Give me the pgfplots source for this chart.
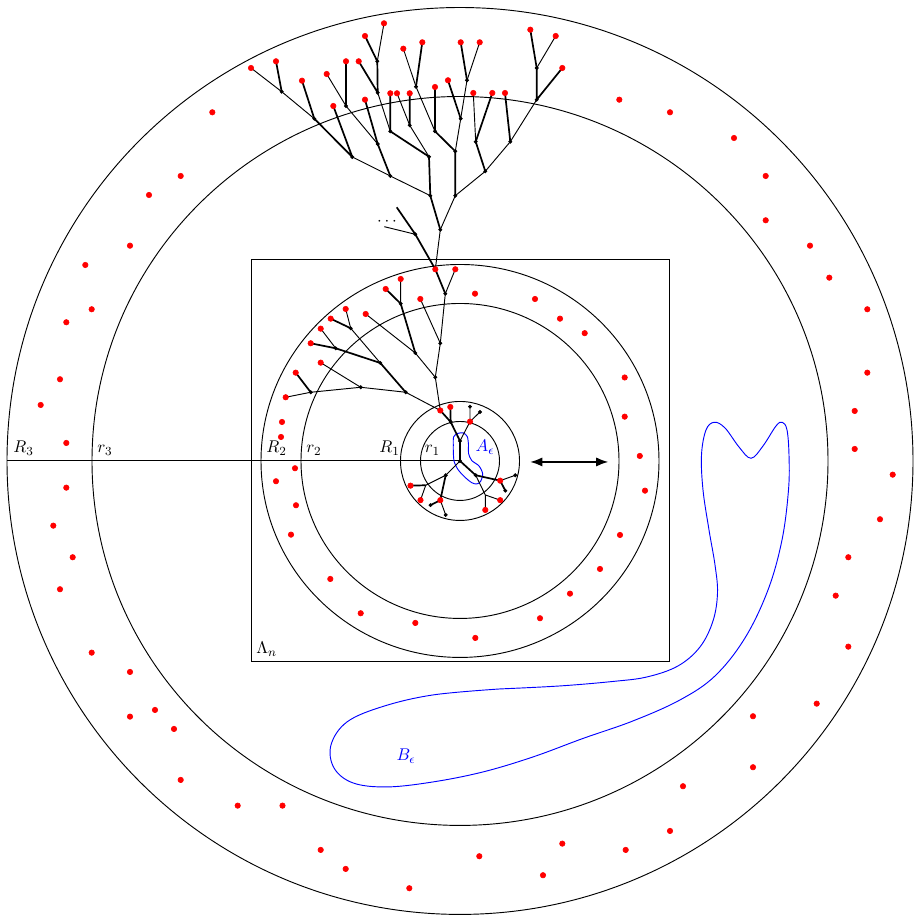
\documentclass[border=0pt]{standalone}
\usepackage{pgfplots}
\pgfplotsset{compat=1.18}
\usetikzlibrary{arrows.meta}
\begin{document}
\begin{tikzpicture}[every node/.append style={font=\fontsize{11}{13}\selectfont}]
\begin{axis}[
  width=591pt, height=590.3pt, scale only axis,
  xmin=0, xmax=916, ymin=0, ymax=915, y dir=reverse,
  hide axis, clip=false, unbounded coords=jump,
]
\addplot[draw=none] coordinates {(0,0) (916,915)};
% circles
\draw[line width=0.6pt] (axis cs:460,461) ellipse [x radius=453, y radius=453.5];
\draw[line width=0.6pt] (axis cs:460,461) ellipse [x radius=368, y radius=364.5];
\draw[line width=0.6pt] (axis cs:460,461) ellipse [x radius=199, y radius=196.5];
\draw[line width=0.6pt] (axis cs:460,461) ellipse [x radius=159, y radius=157.5];
\draw[line width=0.6pt] (axis cs:460,461) circle [radius=59.5];
\draw[line width=0.6pt] (axis cs:460,461) circle [radius=39.5];
% square and radius line
\addplot[line width=0.6pt, black] coordinates {(251,259.5) (669.5,259.5) (669.5,662) (251,662) (251,259.5)};
\addplot[line width=0.6pt, black] coordinates {(7,461) (460,461)};
% labels
\node[anchor=south west, inner sep=3.3pt] at (axis cs:8,461) {$R_3$};
\node[anchor=south west, inner sep=3.3pt] at (axis cs:92,461) {$r_3$};
\node[anchor=south west, inner sep=3.3pt] at (axis cs:261,461) {$R_2$};
\node[anchor=south west, inner sep=3.3pt] at (axis cs:301,461) {$r_2$};
\node[anchor=south west, inner sep=3.3pt] at (axis cs:374,461) {$R_1$};
\node[anchor=south west, inner sep=3.3pt] at (axis cs:419.5,461) {$r_1$};
\node[anchor=south west, inner sep=3.3pt] at (axis cs:251,662) {$\Lambda_n$};
\node[blue] at (axis cs:485,447) {$A_\epsilon$};
\node[blue] at (axis cs:406,756) {$B_\epsilon$};
\node[anchor=base] at (axis cs:387,226) {$\cdots$};
% arrow
\addplot[line width=1.3pt, {Latex[length=8pt,width=6pt]}-{Latex[length=8pt,width=6pt]}] coordinates {(530,462) (608.5,462)};
% blue curves
\addplot[blue, line width=0.6pt, smooth] coordinates {
(453.3,445) (453.6,437) (457.5,433.5) (463.3,433) (467.3,436.7) (468.5,445) (468.5,453.3) (471.7,460.5) (479,466) (482.7,474) (480.5,481.5) (476.7,484) (471.7,482.7) (465,477.3) (458.3,470) (454.2,461.7) (453.3,451.7) (453.3,445)};
\addplot[blue, line width=0.6pt, smooth, tension=0.6] coordinates {
(500,689) (433,695) (383,706.5) (347,722) (331,745) (334,768) (353,783) (387,787) (433,782) (483,772) (533,757) (583,738.5) (633,721) (680,700) (715,676) (745,638) (768,590) (782,540) (788.5,490) (789,455) (787,430) (782.3,422.3) (776,426) (763,446) (751,458.3) (739,447) (725,428) (714.3,422.3) (706,430) (701.5,455) (703,490) (709,530) (715,565) (717.5,593) (713,621) (700,647) (678,666) (647,677) (613,681.5) (560,686) (500,689)};
% thin tree edges
\addplot[black, line width=0.6pt] coordinates {
(251,68) (281.7,91.7) (314.3,118.7) (nan,nan)
(352.3,157) (390.3,176) (430.3,195.7) (nan,nan)
(326.7,74) (346,106) (377.7,144) (nan,nan)
(384,23.3) (377.3,61.3) (nan,nan)
(377.7,92.7) (390.3,131.3) (nan,nan)
(397,93.3) (409.7,125.3) (429,156.7) (nan,nan)
(403.3,48.7) (416,86.7) (435,131.3) (nan,nan)
(479.7,42.3) (467,80.3) (460.7,118.7) (455.3,151.3) (nan,nan)
(473.3,93) (475.7,141.7) (nan,nan)
(555.7,36) (536.7,68) (nan,nan)
(536.7,99.7) (510.3,141.7) (485.3,171.3) (455.3,195.7) (440.3,229.7) (435.3,269.3) (nan,nan)
(384.3,226.7) (415.3,234.3) (nan,nan)
(455.3,269.3) (445.3,293.7) (440.3,343.3) (435.3,377.3) (440.3,410.5) (nan,nan)
(400.7,279) (400.7,303.7) (nan,nan)
(420.3,299) (440.3,343.3) (nan,nan)
(365.7,314) (415.3,353) (435.3,377.3) (nan,nan)
(345.7,309) (350.7,328.3) (380.3,363) (nan,nan)
(320.7,328.7) (335.7,348.3) (nan,nan)
(320.7,362.7) (360.7,387.3) (nan,nan)
(285.7,397.3) (310.7,392.3) (360.7,387.3) (405.7,392.3) (440.3,410.5) (nan,nan)
(470,406.7) (470,421.7) (460,441) (nan,nan)
(470,421.7) (480,412) (nan,nan)
(460,461) (445.7,475.3) (425.7,485.3) (420.5,500.2) (nan,nan)
(440.3,500.2) (445.7,515) (nan,nan)
(500.2,480.7) (515.3,475.3) (nan,nan)
(475.7,475.3) (485.3,495) (485.3,510) (nan,nan)
(485.3,495) (500.2,500.2)
};
% thick tree edges
\addplot[black, line width=1.1pt] coordinates {
(276,61.3) (281.7,91.7) (nan,nan)
(302,80.7) (314.3,118.7) (352.3,157) (nan,nan)
(333.3,106) (352.3,157) (nan,nan)
(346,61.3) (346,106) (nan,nan)
(365,99.7) (377.7,144) (390.3,176) (nan,nan)
(365,36) (377.3,61.3) (377.7,92.7) (nan,nan)
(358.7,61.3) (377.7,92.7) (nan,nan)
(390.3,93.3) (390.3,131.3) (429,156.7) (430.3,195.7) (440.3,229.7) (nan,nan)
(409.7,93.3) (409.7,125.3) (nan,nan)
(422.3,42.3) (416,86.7) (nan,nan)
(435,87) (435,131.3) (455.3,151.3) (455.3,195.7) (nan,nan)
(460.7,42.3) (467,80.3) (nan,nan)
(448,80.3) (460.7,118.7) (nan,nan)
(492.3,93) (475.7,141.7) (485.3,171.3) (nan,nan)
(505,93) (510.3,141.7) (nan,nan)
(530.3,29.7) (536.7,68) (536.7,99.7) (nan,nan)
(562.3,68) (536.7,99.7) (nan,nan)
(396.7,207.3) (415.3,234.3) (435.3,269.3) (445.3,293.7) (nan,nan)
(385.7,289) (400.7,303.7) (415.3,353) (nan,nan)
(330.7,318.7) (350.7,328.3) (nan,nan)
(310.7,343.3) (335.7,348.3) (380.3,363) (405.7,392.3) (nan,nan)
(295.7,372.7) (310.7,392.3) (nan,nan)
(440.3,410.5) (450.7,422) (460,441) (460,461) (475.7,475.3) (500.2,480.7) (505.3,490.7) (nan,nan)
(450.3,407) (450.7,422) (nan,nan)
(410.5,485.7) (425.7,485.3) (nan,nan)
(445.7,475.3) (440.3,500.2) (430.5,505.2)
};
% black nodes
\addplot[only marks, mark=*, mark size=1.05pt, black] coordinates {
(281.7,91.7) (314.3,118.7) (346,106) (352.3,157) (377.7,144) (377.3,61.3) (377.7,92.7)
(390.3,131.3) (409.7,125.3) (390.3,176) (416,86.7) (435,131.3) (429,156.7) (430.3,195.7)
(467,80.3) (460.7,118.7) (455.3,151.3) (455.3,195.7) (475.7,141.7) (510.3,141.7) (485.3,171.3)
(536.7,68) (536.7,99.7) (440.3,229.7) (415.3,234.3)
(445.3,293.7) (400.7,303.7) (350.7,328.3) (415.3,353) (440.3,343.3) (335.7,348.3) (380.3,363)
(435.3,377.3) (360.7,387.3) (310.7,392.3) (405.7,392.3)
(450.7,422) (470,406.7) (480,412) (460,441) (460,461) (445.7,475.3) (475.7,475.3)
(515.3,475.3) (505.3,490.7) (430.5,505.2) (445.7,515)
};
% red points
\addplot[only marks, mark=*, mark size=1.75pt, red] coordinates {
(251,68) (276,61.3) (302,80.7) (333.3,106) (326.7,74) (346,61.3) (365,99.7) (365,36) (384,23.3)
(358.7,61.3) (390.3,93.3) (397,93.3) (409.7,93.3) (403.3,48.7) (422.3,42.3) (435,87) (460.7,42.3)
(479.7,42.3) (448,80.3) (473.3,93) (492.3,93) (505,93) (530.3,29.7) (555.7,36) (562.3,68)
(435.3,269.3) (455.3,269.3)
(400.7,279) (385.7,289) (420.3,299) (345.7,309) (330.7,318.7) (365.7,314) (320.7,328.7)
(310.7,343.3) (320.7,362.7) (295.7,372.7) (285.7,397.3) (440.3,410.5) (450.3,407)
(470,421.7) (410.5,485.7) (420.5,500.2) (440.3,500.2) (500.2,480.7) (500.2,500.2) (485.3,510)
(475,293.7) (535,299) (560,318.7) (584.7,333.2) (624.7,377.5) (624.7,416.7) (639.8,456)
(645,490.7) (620,535) (600,569) (570,593.7) (540,618.3) (475.3,638) (415.3,623) (360.7,613.3)
(330.3,579) (291,534.7) (296,505.3) (276,481.3) (295,468.3) (282,422) (281,437)
(212.3,112.3) (180.7,176) (149,195) (130,245.7) (85.3,265) (91.7,309.3) (66.3,322.3) (60,379.3)
(40.7,405) (66.3,443) (66.3,487.7) (53.3,525.7) (72.7,557.3) (60,589.3) (91.7,652.7) (130,672)
(130,716.7) (155,710) (174,729) (180.7,780) (237.7,805.7) (282.5,805.7) (320.7,850) (345.7,869)
(409.3,888.3) (479.3,856.3) (543,875.3) (562.3,843.7) (625.7,850) (670,831) (683,786.3)
(753,767.3) (753,716.3) (816.7,703.7) (848.3,646.7) (835.7,595.7) (848.3,557.3) (880,519.3)
(892.7,474.7) (854.7,449) (854.7,411) (867.3,372.7) (867.3,309.3) (829.3,277.7) (810,245.7)
(765.7,220.3) (765.7,176) (734,138) (670,112.3) (619.3,99.7)
};
\end{axis}
\end{tikzpicture}
\end{document}
